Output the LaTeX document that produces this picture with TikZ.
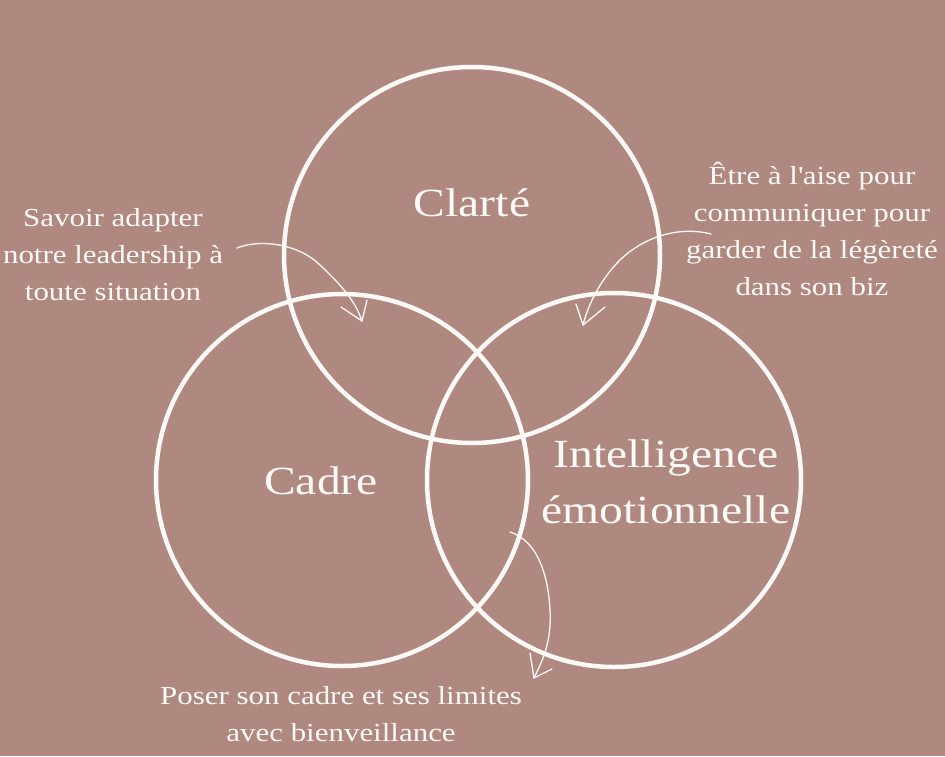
\documentclass[tikz,border=0pt]{standalone}
\usepackage{fontspec}
\setmainfont{Liberation Serif}[FakeStretch=1.19]
\definecolor{bgrose}{RGB}{175,137,127}
\definecolor{chalk}{RGB}{252,249,246}
\tikzset{
  ring/.style={draw=chalk, line width=4.5pt},
  bigtxt/.style={text=chalk, font=\fontsize{40}{56}\selectfont, align=center, inner sep=0pt},
  smalltxt/.style={text=chalk, font=\fontsize{26}{37}\selectfont, align=center, inner sep=0pt},
  sketch/.style={draw=chalk, line width=1.3pt, line cap=round, line join=round},
}
\begin{document}
\begin{tikzpicture}[x=1pt,y=-1pt]
\fill[bgrose] (0,0) rectangle (945,756);
\useasboundingbox (0,0) rectangle (945,756);

% circles
\draw[ring] (472,255) circle (188);
\draw[ring] (342,480) circle (186);
\draw[ring] (614,480) circle (187);

% labels
\node[bigtxt] (clarte) at (472,203) {Clarté};
\node[bigtxt] (cadre) at (321,481) {Cadre};
\node[bigtxt] (intel) at (666,482) {Intelligence\\émotionnelle};

\node[smalltxt] (savoir) at (113,255) {Savoir adapter\\notre leadership à\\toute situation};
\node[smalltxt] (etre) at (812,229) {Être à l\textquotesingle aise pour\\communiquer pour\\garder de la légèreté\\dans son biz};
\node[smalltxt] (poser) at (341,714) {Poser son cadre et ses limites\\avec bienveillance};

% arrow 1
\coordinate (a1s) at (237,248);
\coordinate (a1t) at (362,321);
\draw[sketch] (a1s) .. controls (262,238) and (300,245) .. (320,265)
  .. controls (340,284) and (355,300) .. (a1t);
\draw[sketch] (a1t) -- (341,307);
\draw[sketch] (a1t) -- (367,300);

% arrow 2
\coordinate (a2s) at (711,234);
\coordinate (a2t) at (583,325);
\draw[sketch] (a2s) .. controls (680,226) and (645,236) .. (620,260)
  .. controls (600,280) and (588,305) .. (a2t);
\draw[sketch] (a2t) -- (576,304);
\draw[sketch] (a2t) -- (605,307);

% arrow 3
\coordinate (a3s) at (510,532);
\coordinate (a3t) at (534,678);
\draw[sketch] (a3s) .. controls (535,540) and (548,570) .. (550,610)
  .. controls (552,645) and (540,665) .. (a3t);
\draw[sketch] (a3t) -- (530,653);
\draw[sketch] (a3t) -- (552,669);
\end{tikzpicture}
\end{document}
